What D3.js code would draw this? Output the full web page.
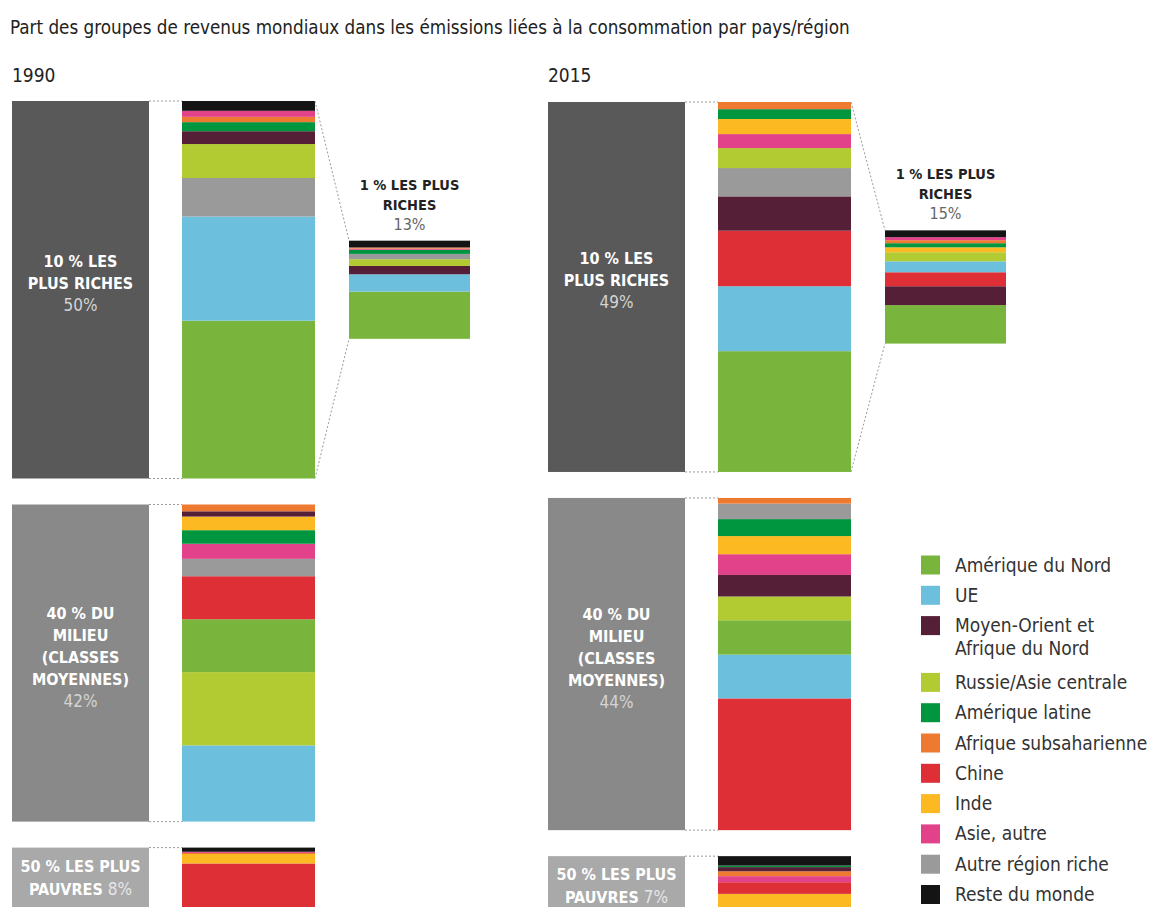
<!DOCTYPE html>
<html>
<head>
<meta charset="utf-8">
<script src="https://cdn.jsdelivr.net/npm/d3@7"></script>
<style>
  body { margin: 0; background: #fff; }
  svg text { font-family: "DejaVu Sans Condensed", "Liberation Sans Narrow", sans-serif; }
</style>
</head>
<body>
<svg id="chart" width="1151" height="907"></svg>
<script>
// regions (legend order) and their colours
const regions = ["Amérique du Nord", "UE", "Moyen-Orient et Afrique du Nord", "Russie/Asie centrale",
  "Amérique latine", "Afrique subsaharienne", "Chine", "Inde", "Asie, autre", "Autre région riche", "Reste du monde"];
const regionColors = ["#79b53c", "#6cc0de", "#561f38", "#b2cb33", "#00963f", "#ee7a31",
  "#de2f37", "#fcb922", "#e24289", "#9a9a9a", "#141414"];
const legendLines = [["Amérique du Nord"], ["UE"], ["Moyen-Orient et", "Afrique du Nord"], ["Russie/Asie centrale"],
  ["Amérique latine"], ["Afrique subsaharienne"], ["Chine"], ["Inde"], ["Asie, autre"], ["Autre région riche"], ["Reste du monde"]];

const years = ["1990", "2015"];
// part de chaque groupe (10 % riches, 40 % milieu, 50 % pauvres) et du 1 %
const groupShares1990 = [50, 42, 8];
const groupShares2015 = [49, 44, 7];
const top1Shares = [13, 15];

const groupLabels = [["10 % LES", "PLUS RICHES"], ["40 % DU", "MILIEU", "(CLASSES", "MOYENNES)"], ["50 % LES PLUS", "PAUVRES"]];

// empilements, du bas vers le haut : [région, part en %]
const riches10_1990 = [["Amérique du Nord", 20.9], ["UE", 13.8], ["Autre région riche", 5.1], ["Russie/Asie centrale", 4.5],
  ["Moyen-Orient et Afrique du Nord", 1.7], ["Amérique latine", 1.2], ["Afrique subsaharienne", 0.7], ["Asie, autre", 0.8], ["Reste du monde", 1.3]];
const riches1_1990 = [["Amérique du Nord", 6.25], ["UE", 2.3], ["Moyen-Orient et Afrique du Nord", 1.1], ["Russie/Asie centrale", 0.9],
  ["Autre région riche", 0.7], ["Amérique latine", 0.55], ["Asie, autre", 0.15], ["Afrique subsaharienne", 0.15], ["Reste du monde", 0.9]];
const milieu40_1990 = [["UE", 10.1], ["Russie/Asie centrale", 9.7], ["Amérique du Nord", 7.0], ["Chine", 5.7], ["Autre région riche", 2.3],
  ["Asie, autre", 2.0], ["Amérique latine", 1.8], ["Inde", 1.8], ["Moyen-Orient et Afrique du Nord", 0.7], ["Afrique subsaharienne", 0.9]];
const pauvres50_1990 = [["Chine", 5.9], ["Inde", 1.25], ["Afrique subsaharienne", 0.15], ["Asie, autre", 0.15], ["Reste du monde", 0.55]];

const riches10_2015 = [["Amérique du Nord", 16.0], ["UE", 8.6], ["Chine", 7.35], ["Moyen-Orient et Afrique du Nord", 4.55],
  ["Autre région riche", 3.75], ["Russie/Asie centrale", 2.65], ["Asie, autre", 1.85], ["Inde", 2.0], ["Amérique latine", 1.3], ["Afrique subsaharienne", 0.95]];
const riches1_2015 = [["Amérique du Nord", 5.1], ["Moyen-Orient et Afrique du Nord", 2.5], ["Chine", 1.85], ["UE", 1.45],
  ["Russie/Asie centrale", 1.2], ["Inde", 0.65], ["Amérique latine", 0.55], ["Afrique subsaharienne", 0.4], ["Asie, autre", 0.4], ["Reste du monde", 0.9]];
const milieu40_2015 = [["Chine", 17.45], ["UE", 5.8], ["Amérique du Nord", 4.55], ["Russie/Asie centrale", 3.15],
  ["Moyen-Orient et Afrique du Nord", 2.85], ["Asie, autre", 2.75], ["Inde", 2.4], ["Amérique latine", 2.25], ["Autre région riche", 2.05], ["Afrique subsaharienne", 0.75]];
const pauvres50_2015 = [["Inde", 2.0], ["Chine", 1.55], ["Asie, autre", 0.8], ["Afrique subsaharienne", 0.65],
  ["Moyen-Orient et Afrique du Nord", 0.55], ["Amérique latine", 0.2], ["Reste du monde", 1.25]];

const color = d3.scaleOrdinal().domain(regions).range(regionColors);
const h = d3.scaleLinear().domain([0, 100]).range([0, 755]); // % -> hauteur en px

const svg = d3.select("#chart");
const boxFill = ["#595959", "#898989", "#a9a9a9"];

svg.append("text").attr("x", 10).attr("y", 34)
  .attr("font-size", 18.7).attr("fill", "#222")
  .text("Part des groupes de revenus mondiaux dans les émissions liées à la consommation par pays/région");

const panels = [
  {year: years[0], dx: 0, y0: 101, shares: groupShares1990, stacks: [riches10_1990, milieu40_1990, pauvres50_1990], top1: riches1_1990, top1Share: top1Shares[0]},
  {year: years[1], dx: 536, y0: 102, shares: groupShares2015, stacks: [riches10_2015, milieu40_2015, pauvres50_2015], top1: riches1_2015, top1Share: top1Shares[1]}
];

function drawStack(g, data, x, yBottom, w){
  let acc = 0;
  data.forEach(d => {
    acc += d[1];
    g.append("rect")
      .attr("x", x).attr("y", yBottom - h(acc))
      .attr("width", w).attr("height", h(d[1]))
      .attr("fill", color(d[0]));
  });
}

function dotted(g, x1, y1, x2, y2){
  g.append("line").attr("x1", x1).attr("y1", y1).attr("x2", x2).attr("y2", y2)
    .attr("stroke", "#9a9a9a").attr("stroke-width", 1).attr("stroke-dasharray", "2,2");
}

panels.forEach(p => {
  const g = svg.append("g").attr("transform", `translate(${p.dx},0)`);
  const boxX = 12, boxW = 137, stackX = 182, stackW = 133, gap = 26;

  g.append("text").attr("x", 12).attr("y", 82).attr("font-size", 19).attr("fill", "#222").text(p.year);

  let y = p.y0;
  p.shares.forEach((share, i) => {
    const hh = h(share);
    g.append("rect").attr("x", boxX).attr("y", y).attr("width", boxW).attr("height", hh).attr("fill", boxFill[i]);
    drawStack(g, p.stacks[i], stackX, y + hh, stackW);
    dotted(g, boxX + boxW, y, stackX, y);
    dotted(g, boxX + boxW, y + hh, stackX, y + hh);

    const cx = boxX + boxW / 2;
    if (i < 2) {
      const lines = groupLabels[i].concat([share + "%"]);
      const c = y + hh / 2 - 6;
      lines.forEach((t, k) => {
        const last = k === lines.length - 1;
        g.append("text").attr("x", cx).attr("y", c + (k - (lines.length - 1) / 2) * 22 + 5.5)
          .attr("text-anchor", "middle").attr("font-size", last ? 17 : 16)
          .attr("font-weight", last ? "normal" : "bold")
          .attr("fill", last ? "#d4d4d4" : "#fff").text(t);
      });
    } else {
      g.append("text").attr("x", cx).attr("y", y + 24).attr("text-anchor", "middle")
        .attr("font-size", 16).attr("font-weight", "bold").attr("fill", "#fff").text(groupLabels[i][0]);
      const t2 = g.append("text").attr("x", cx).attr("y", y + 47).attr("text-anchor", "middle").attr("font-size", 16);
      t2.append("tspan").attr("font-weight", "bold").attr("fill", "#fff").text(groupLabels[i][1] + " ");
      t2.append("tspan").attr("fill", "#e6e6e6").attr("font-size", 17).text(share + "%");
    }

    if (i === 0) {
      // zoom sur le 1 % le plus riche
      const oneH = h(p.top1Share);
      const oneX = stackX + 167, oneW = 121;
      const oneTop = y + hh / 2 - oneH / 2;
      drawStack(g, p.top1, oneX, oneTop + oneH, oneW);
      dotted(g, stackX + stackW, y, oneX, oneTop);
      dotted(g, stackX + stackW, y + hh, oneX, oneTop + oneH);
      const ocx = oneX + oneW / 2;
      g.append("text").attr("x", ocx).attr("y", oneTop - 51).attr("text-anchor", "middle")
        .attr("font-size", 14.5).attr("font-weight", "bold").attr("fill", "#222").text("1 % LES PLUS");
      g.append("text").attr("x", ocx).attr("y", oneTop - 31).attr("text-anchor", "middle")
        .attr("font-size", 14.5).attr("font-weight", "bold").attr("fill", "#222").text("RICHES");
      g.append("text").attr("x", ocx).attr("y", oneTop - 11).attr("text-anchor", "middle")
        .attr("font-size", 16).attr("fill", "#666").text(p.top1Share + "%");
    }
    y += hh + gap;
  });
});

// légende
const legend = svg.append("g");
let ly = 565;
regions.forEach((r, i) => {
  legend.append("rect").attr("x", 921).attr("y", ly - 9.5).attr("width", 19).attr("height", 19).attr("fill", color(r));
  legendLines[i].forEach((t, k) => {
    legend.append("text").attr("x", 955).attr("y", ly + 6.5 + k * 23)
      .attr("font-size", 19).attr("fill", "#333").text(t);
  });
  ly += 30.3 + (legendLines[i].length - 1) * 26.5;
});
</script>
</body>
</html>
